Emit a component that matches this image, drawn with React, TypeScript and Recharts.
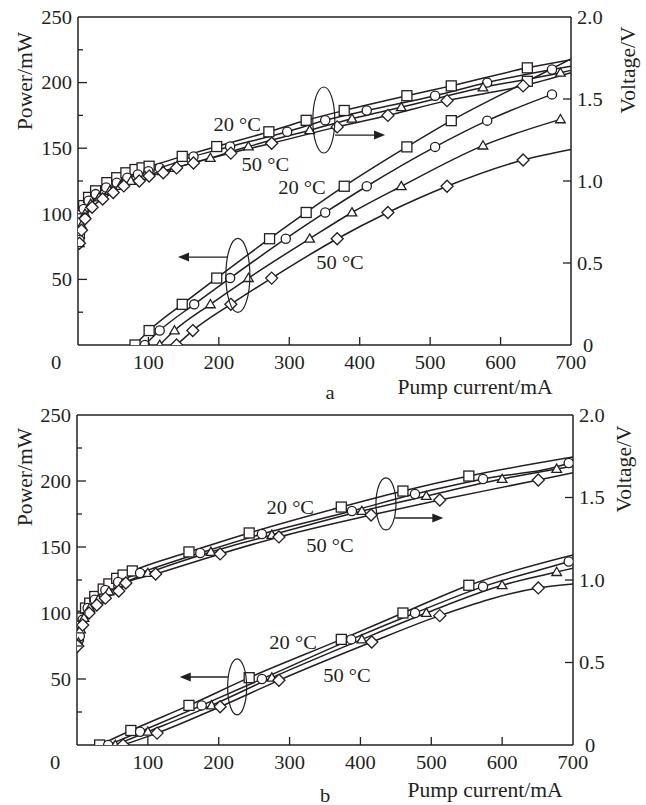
import React from 'react';
import { ComposedChart, Line, XAxis, YAxis, ReferenceLine, ReferenceDot } from 'recharts';

type Pt = [number, number];

const currentTicks = [0, 100, 200, 300, 400, 500, 600, 700];
const powerTicks = [0, 25, 50, 75, 100, 125, 150, 175, 200, 225, 250];
const voltageTicks = [0, 0.5, 1, 1.5, 2];
// order of the four curves in each group: 20 C ... 50 C
const markerKinds = ['square', 'circle', 'triangle', 'diamond'];

// ---- panel a: output power, mW vs pump current, mA
const aPowerSq: Pt[] = [[81, 0], [101, 11], [148, 31], [197, 51], [272, 81], [324, 101], [378, 121], [467, 151], [530, 171], [638, 201]];
const aPowerCi: Pt[] = [[95, 0], [116, 11], [165, 31], [216, 51], [295, 81], [351, 101], [410, 121], [507, 151], [581, 171], [673, 191]];
const aPowerTr: Pt[] = [[116, 0], [137, 11], [188, 31], [242, 51], [329, 81], [389, 101], [459, 121], [575, 152], [685, 172]];
const aPowerDi: Pt[] = [[140, 0], [163, 11], [217, 31], [275, 51], [368, 81], [440, 101], [524, 121], [632, 141]];
// where a curve runs on to 700 mA past its last marker (null = it stops there)
const aPowerTail = [218, null, null, 149];

// ---- panel a: voltage, V
const aVoltSq: Pt[] = [[2, 0.68], [4, 0.8], [8, 0.85], [15, 0.9], [25, 0.94], [41, 0.99], [55, 1.02], [68, 1.05], [81, 1.07], [91, 1.08], [101, 1.09], [148, 1.15], [197, 1.21], [271, 1.3], [324, 1.37], [378, 1.43], [467, 1.52], [530, 1.58], [638, 1.69]];
const aVoltCi: Pt[] = [[2, 0.64], [4, 0.75], [8, 0.83], [15, 0.88], [25, 0.92], [40, 0.96], [55, 0.99], [70, 1.02], [85, 1.04], [100, 1.06], [116, 1.08], [164, 1.15], [216, 1.21], [297, 1.3], [351, 1.37], [410, 1.43], [507, 1.52], [581, 1.6], [673, 1.68]];
const aVoltTr: Pt[] = [[2, 0.62], [5, 0.73], [10, 0.8], [18, 0.86], [30, 0.9], [45, 0.94], [60, 0.97], [75, 1.0], [95, 1.03], [120, 1.06], [137, 1.08], [188, 1.14], [242, 1.21], [329, 1.31], [389, 1.38], [459, 1.45], [575, 1.57], [685, 1.66]];
const aVoltDi: Pt[] = [[2, 0.62], [5, 0.7], [10, 0.77], [20, 0.84], [35, 0.89], [50, 0.93], [65, 0.97], [87, 1.0], [101, 1.03], [121, 1.05], [140, 1.08], [164, 1.11], [217, 1.17], [275, 1.23], [368, 1.33], [440, 1.4], [524, 1.49], [632, 1.58]];
const aVoltTail = [1.74, 1.7, 1.675, 1.66];

// ---- panel b: output power, mW
const bPowerSq: Pt[] = [[32, 0], [76, 11], [158, 30], [243, 51], [373, 80], [460, 100], [553, 121]];
const bPowerCi: Pt[] = [[44, 0], [89, 10], [176, 30], [261, 50], [387, 80], [477, 100], [573, 120], [694, 139]];
const bPowerTr: Pt[] = [[54, 0], [100, 10], [190, 30], [275, 51], [402, 80], [493, 100], [600, 121], [677, 131]];
const bPowerDi: Pt[] = [[65, 0], [113, 9], [202, 29], [285, 49], [416, 78], [512, 98], [651, 119]];
const bPowerTail = [144, 140, 134, 122];

// ---- panel b: voltage, V
const bVoltSq: Pt[] = [[2, 0.66], [4, 0.74], [7, 0.78], [12, 0.83], [18, 0.86], [25, 0.9], [37, 0.945], [45, 0.976], [56, 1.01], [65, 1.03], [78, 1.055], [158, 1.17], [243, 1.285], [373, 1.442], [460, 1.539], [553, 1.63]];
const bVoltCi: Pt[] = [[2, 0.63], [4, 0.66], [8, 0.76], [15, 0.83], [25, 0.88], [40, 0.94], [58, 0.988], [89, 1.042], [174, 1.164], [261, 1.279], [388, 1.418], [477, 1.521], [573, 1.612], [694, 1.709]];
const bVoltTr: Pt[] = [[2, 0.62], [5, 0.7], [10, 0.77], [18, 0.83], [30, 0.88], [45, 0.93], [65, 0.98], [100, 1.042], [189, 1.17], [275, 1.273], [402, 1.418], [493, 1.509], [600, 1.612], [677, 1.673]];
const bVoltDi: Pt[] = [[1, 0.6], [8, 0.727], [17, 0.8], [28, 0.848], [40, 0.89], [59, 0.933], [69, 0.982], [111, 1.036], [202, 1.158], [285, 1.261], [415, 1.394], [512, 1.485], [651, 1.606]];
const bVoltTail = [1.745, 1.72, 1.69, 1.65];

const FONT = '"Liberation Serif", "Times New Roman", Times, serif';
const INK = '#231f20';

function Txt({ x, y, anchor = 'middle', size = 19, rotate = 0, children }: any) {
  return (
    <text
      transform={`translate(${x},${y}) rotate(${rotate}) scale(1.08,1)`}
      textAnchor={anchor}
      dominantBaseline="central"
      fontFamily={FONT}
      fontSize={size}
      fill={INK}
    >
      {children}
    </text>
  );
}

function Marker({ kind, cx, cy }: { kind: string; cx: number; cy: number }) {
  const s = { fill: '#fff', stroke: INK, strokeWidth: 1.3 };
  if (kind === 'square') return <rect x={cx - 5} y={cy - 5} width={10} height={10} {...s} />;
  if (kind === 'circle') return <circle cx={cx} cy={cy} r={4.6} {...s} />;
  if (kind === 'triangle')
    return <polygon points={`${cx},${cy - 4.8} ${cx + 4.8},${cy + 3.4} ${cx - 4.8},${cy + 3.4}`} {...s} />;
  return <polygon points={`${cx},${cy - 6} ${cx + 6},${cy} ${cx},${cy + 6} ${cx - 6},${cy}`} {...s} />;
}

const CurrentTick = ({ x, y, payload }: any) => {
  const v = payload.value;
  return (
    <g>
      {v > 0 && v < 700 && <line x1={x} x2={x} y1={y} y2={y - 8} stroke={INK} strokeWidth={1.3} />}
      {v > 0 && <Txt x={x} y={y + 17}>{v}</Txt>}
    </g>
  );
};

const PowerTick = ({ x, y, payload }: any) => {
  const v = payload.value;
  const major = v % 50 === 0;
  return (
    <g>
      {v > 0 && v < 250 && <line x1={x} x2={x + (major ? 9 : 5)} y1={y} y2={y} stroke={INK} strokeWidth={1.3} />}
      {v === 0 ? <Txt x={x - 22} y={y + 17}>0</Txt> : major && <Txt x={x - 6} y={y} anchor="end">{v}</Txt>}
    </g>
  );
};

const VoltTick = ({ x, y, payload }: any) => {
  const v = payload.value;
  return (
    <g>
      {v > 0 && v < 2 && <line x1={x} x2={x - 8} y1={y} y2={y} stroke={INK} strokeWidth={1.3} />}
      <Txt x={x + (v === 0 ? 12 : 6)} y={y} anchor="start">{v === 0 ? '0' : v.toFixed(1)}</Txt>
    </g>
  );
};

const Arrow = ({ x1, y1, x2, y2 }: any) => {
  const d = x2 > x1 ? 1 : -1;
  return (
    <g>
      <line x1={x1} y1={y1} x2={x2 - d * 8} y2={y2} stroke={INK} strokeWidth={1.4} />
      <polygon points={`${x2},${y2} ${x2 - d * 11},${y2 - 4.5} ${x2 - d * 11},${y2 + 4.5}`} fill={INK} />
    </g>
  );
};

type Note = { x: number; y: number; text: string };
type Ring = { x: number; y: number; rx: number; ry: number };
type Pointer = { from: Pt; to: Pt };

const panels = [
  {
    tag: 'a',
    offset: 0,
    height: 410,
    top: 17,
    leftW: 78,
    rightW: 75,
    axisH: 65,
    power: [aPowerSq, aPowerCi, aPowerTr, aPowerDi],
    powerTail: aPowerTail,
    volt: [aVoltSq, aVoltCi, aVoltTr, aVoltDi],
    voltTail: aVoltTail,
    notes: [
      { x: 226, y: 168, text: '20 °C' },
      { x: 266, y: 138, text: '50 °C' },
      { x: 318, y: 120, text: '20 °C' },
      { x: 372, y: 63, text: '50 °C' },
    ] as Note[],
    rings: [
      { x: 349, y: 171.5, rx: 11, ry: 33 },
      { x: 227, y: 53, rx: 12, ry: 37 },
    ] as Ring[],
    pointers: [
      { from: [365, 160], to: [436, 160] },
      { from: [212, 67], to: [142, 67] },
    ] as Pointer[],
    yTitle: [25, 81],
    vTitle: [628, 70],
    xTitle: [475, 387],
    tagPos: [330, 392],
  },
  {
    tag: 'b',
    offset: 400,
    height: 410,
    top: 15,
    leftW: 77,
    rightW: 73,
    axisH: 65,
    power: [bPowerSq, bPowerCi, bPowerTr, bPowerDi],
    powerTail: bPowerTail,
    volt: [bVoltSq, bVoltCi, bVoltTr, bVoltDi],
    voltTail: bVoltTail,
    notes: [
      { x: 301, y: 180, text: '20 °C' },
      { x: 357, y: 151.5, text: '50 °C' },
      { x: 305, y: 78, text: '20 °C' },
      { x: 381, y: 53, text: '50 °C' },
    ] as Note[],
    rings: [
      { x: 436, y: 182.6, rx: 10, ry: 26 },
      { x: 226, y: 44, rx: 9.5, ry: 28 },
    ] as Ring[],
    pointers: [
      { from: [449, 172], to: [517, 172] },
      { from: [213, 51.5], to: [145, 51.5] },
    ] as Pointer[],
    yTitle: [25, 77],
    vTitle: [624, 69],
    xTitle: [485, 390],
    tagPos: [325, 395],
  },
];

type PanelCfg = (typeof panels)[number];

const toRows = (pts: Pt[], tail: number | null) => {
  const rows = pts.map(([x, y]) => ({ x, y }));
  if (tail != null) rows.push({ x: 700, y: tail });
  return rows;
};

function Panel({ cfg }: { cfg: PanelCfg }) {
  const curves = [
    ...cfg.power.map((pts, i) => ({ axis: 'p', kind: markerKinds[i], n: pts.length, rows: toRows(pts, cfg.powerTail[i]) })),
    ...cfg.volt.map((pts, i) => ({ axis: 'v', kind: markerKinds[i], n: pts.length, rows: toRows(pts, cfg.voltTail[i]) })),
  ];

  return (
    <div style={{ position: 'absolute', left: 0, top: cfg.offset }}>
      <ComposedChart width={646} height={cfg.height} margin={{ top: cfg.top, right: 0, bottom: 0, left: 0 }}>
        <XAxis
          type="number"
          dataKey="x"
          domain={[0, 700]}
          ticks={currentTicks}
          interval={0}
          allowDataOverflow
          height={cfg.axisH}
          tickSize={0}
          tickMargin={0}
          tickLine={false}
          axisLine={{ stroke: INK, strokeWidth: 1.5 }}
          tick={(p: any) => <CurrentTick {...p} />}
          label={() => (
            <g>
              <Txt x={cfg.xTitle[0]} y={cfg.xTitle[1]} size={20}>Pump current/mA</Txt>
              <Txt x={cfg.tagPos[0]} y={cfg.tagPos[1]} size={19}>{cfg.tag}</Txt>
            </g>
          )}
        />
        <YAxis
          yAxisId="p"
          orientation="left"
          domain={[0, 250]}
          ticks={powerTicks}
          interval={0}
          allowDataOverflow
          width={cfg.leftW}
          tickSize={0}
          tickMargin={0}
          tickLine={false}
          axisLine={{ stroke: INK, strokeWidth: 1.5 }}
          tick={(p: any) => <PowerTick {...p} />}
          label={() => (
            <Txt x={cfg.yTitle[0]} y={cfg.yTitle[1]} size={20} rotate={-90}>Power/mW</Txt>
          )}
        />
        <YAxis
          yAxisId="v"
          orientation="right"
          domain={[0, 2]}
          ticks={voltageTicks}
          interval={0}
          allowDataOverflow
          width={cfg.rightW}
          tickSize={0}
          tickMargin={0}
          tickLine={false}
          axisLine={{ stroke: INK, strokeWidth: 1.5 }}
          tick={(p: any) => <VoltTick {...p} />}
          label={() => (
            <Txt x={cfg.vTitle[0]} y={cfg.vTitle[1]} size={20} rotate={-90}>Voltage/V</Txt>
          )}
        />
        <ReferenceLine yAxisId="p" y={250} stroke={INK} strokeWidth={1.5} />

        {curves.map((c, i) => (
          <Line
            key={`l${i}`}
            data={c.rows}
            dataKey="y"
            yAxisId={c.axis}
            type="monotone"
            stroke={INK}
            strokeWidth={1.5}
            dot={false}
            activeDot={false}
            isAnimationActive={false}
          />
        ))}
        {curves.map((c, i) => (
          <Line
            key={`m${i}`}
            data={c.rows}
            dataKey="y"
            yAxisId={c.axis}
            type="monotone"
            stroke="none"
            activeDot={false}
            isAnimationActive={false}
            dot={(p: any) =>
              p.index >= c.n ? <g key={p.index} /> : <Marker key={p.index} kind={c.kind} cx={p.cx} cy={p.cy} />
            }
          />
        ))}

        {cfg.rings.map((r, i) => (
          <ReferenceDot
            key={`r${i}`}
            yAxisId="p"
            x={r.x}
            y={r.y}
            r={1}
            ifOverflow="visible"
            shape={(p: any) => <ellipse cx={p.cx} cy={p.cy} rx={r.rx} ry={r.ry} fill="none" stroke={INK} strokeWidth={1.2} />}
          />
        ))}
        {cfg.pointers.map((a, i) => (
          <ReferenceLine
            key={`a${i}`}
            yAxisId="p"
            segment={[{ x: a.from[0], y: a.from[1] }, { x: a.to[0], y: a.to[1] }]}
            ifOverflow="visible"
            shape={(p: any) => <Arrow {...p} />}
          />
        ))}
        {cfg.notes.map((n, i) => (
          <ReferenceDot
            key={`n${i}`}
            yAxisId="p"
            x={n.x}
            y={n.y}
            r={1}
            ifOverflow="visible"
            shape={(p: any) => <Txt x={p.cx} y={p.cy}>{n.text}</Txt>}
          />
        ))}
      </ComposedChart>
    </div>
  );
}

export default function App() {
  return (
    <div style={{ position: 'absolute', left: 0, top: 0, width: 646, height: 805, overflow: 'hidden', background: '#fff' }}>
      {panels.map((cfg) => (
        <Panel key={cfg.tag} cfg={cfg} />
      ))}
    </div>
  );
}
